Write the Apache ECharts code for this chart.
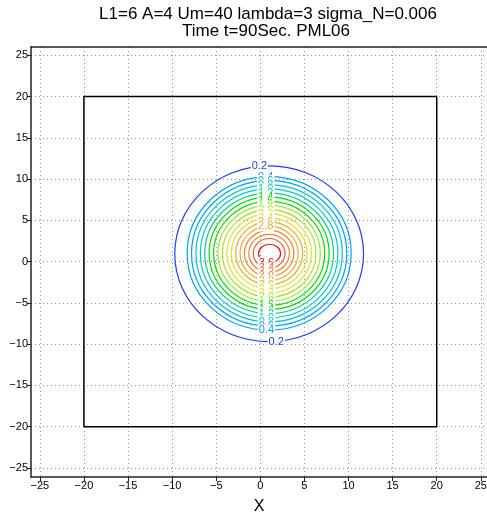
<!DOCTYPE html>
<html>
<head>
<meta charset="utf-8">
<script src="https://cdn.jsdelivr.net/npm/echarts@6/dist/echarts.min.js"></script>
<style>
	html, body { margin: 0; padding: 0; background: #fff; }
	#main { width: 487px; height: 516px; }
</style>
</head>
<body>
<div id="main"></div>
<script>
// ---------------- data ----------------
var titleLines = ['L1=6 A=4 Um=40 lambda=3 sigma_N=0.006', 'Time t=90Sec. PML06'];
var xTicks = [-25, -20, -15, -10, -5, 0, 5, 10, 15, 20, 25];
var yTicks = [-25, -20, -15, -10, -5, 0, 5, 10, 15, 20, 25];

// contour levels and the extent of each closed contour (data units)
var levels = [0.2, 0.4, 0.6, 0.8, 1.0, 1.2, 1.4, 1.6, 1.8, 2.0, 2.2, 2.4, 2.6, 2.8, 3.0, 3.2, 3.4, 3.6];
var contourXMin = [-9.7, -8.3, -7.8, -7.3, -6.8, -6.3, -5.8, -5.3, -4.8, -4.3, -3.8, -3.3, -2.8, -2.3, -1.8, -1.3, -0.8, -0.2];
var contourXMax = [11.7, 10.3, 9.8, 9.3, 8.8, 8.3, 7.8, 7.3, 6.8, 6.3, 5.8, 5.3, 4.8, 4.3, 3.8, 3.3, 2.8, 2.3];
var contourYMin = [-9.7, -8.3, -7.8, -7.3, -6.8, -6.3, -5.8, -5.3, -4.8, -4.3, -3.8, -3.3, -2.8, -2.3, -1.8, -1.3, -0.8, -0.15];
var contourYMax = [11.6, 10.3, 9.8, 9.3, 8.8, 8.3, 7.8, 7.3, 6.8, 6.3, 5.8, 5.3, 4.8, 4.3, 3.8, 3.3, 2.8, 2.1];

// the square frame
var boxX = [-20, 20, 20, -20, -20];
var boxY = [-20, -20, 20, 20, -20];

// ---------------- styles ----------------
var levelColors = ['#1e3cff', '#00a0ff', '#00a0ff', '#00c8c8', '#00c8c8', '#00d28c', '#00dc00', '#00dc00', '#a0e632',
	'#a0e632', '#e6dc32', '#e6dc32', '#e6af2d', '#e6af2d', '#f08228', '#f08228', '#f05a32', '#f01414'];
var labelFont = '11px "Liberation Sans"';
var titleFont = '17px "Liberation Sans"';

var chart = echarts.init(document.getElementById('main'));

function minus(v) {
	return String(v).replace('-', '\u2212');
}

var contourData = levels.map(function(lv, i) {
	return [contourXMin[i], contourXMax[i], contourYMin[i], contourYMax[i], i];
});

// labels: top of contours up to 2.8, bottom of all contours; drawn top to bottom
var labelData = [];
levels.forEach(function(lv, i) {
	if (lv <= 2.8) labelData.push([i === 0 ? -0.1 : 0.6, contourYMax[i], i]);
});
for (var k = levels.length - 1; k >= 0; k--) {
	labelData.push([k === 0 ? 1.8 : 0.7, contourYMin[k], k]);
}

var boxData = boxX.map(function(x, i) { return [x, boxY[i]]; });

var option = {
	animation: false,
	graphic: [{
		type: 'text',
		x: 268,
		y: 14,
		style: { text: titleLines[0], font: titleFont, fill: '#000', align: 'center', verticalAlign: 'middle' }
	}, {
		type: 'text',
		x: 266,
		y: 31,
		style: { text: titleLines[1], font: titleFont, fill: '#000', align: 'center', verticalAlign: 'middle' }
	}],
	grid: { left: 31, right: 0, top: 47, bottom: 39, containLabel: false, outerBoundsMode: 'none' },
	xAxis: [{
		type: 'value',
		min: -26,
		max: 25.7,
		position: 'bottom',
		name: 'X',
		nameLocation: 'middle',
		nameGap: 22,
		nameTextStyle: { fontFamily: 'Liberation Sans', fontSize: 16, color: '#000' },
		axisLine: { onZero: false, lineStyle: { color: '#222', width: 1.5 } },
		axisTick: { customValues: xTicks, length: 4, lineStyle: { color: '#222' } },
		axisLabel: { customValues: xTicks, formatter: minus, fontFamily: 'Liberation Sans', fontSize: 11, color: '#000', margin: 3 },
		splitLine: { show: true, lineStyle: { type: [1, 3], color: '#999' } }
	}, {
		type: 'value',
		min: -26,
		max: 25.7,
		position: 'top',
		axisLine: { show: true, onZero: false, lineStyle: { color: '#222', width: 1.5 } },
		axisTick: { show: false },
		axisLabel: { show: false },
		splitLine: { show: false }
	}],
	yAxis: [{
		type: 'value',
		min: -26.1,
		max: 26,
		position: 'left',
		axisLine: { show: true, onZero: false, lineStyle: { color: '#222', width: 1.5 } },
		axisTick: { show: true, customValues: yTicks, length: 4, lineStyle: { color: '#222' } },
		axisLabel: { customValues: yTicks, formatter: minus, fontFamily: 'Liberation Sans', fontSize: 11, color: '#000', margin: 3 },
		splitLine: { show: true, lineStyle: { type: [1, 3], color: '#999' } }
	}],
	series: [{
		type: 'line',
		data: boxData,
		symbol: 'none',
		lineStyle: { color: '#000', width: 1.5 },
		z: 2
	}, {
		type: 'custom',
		data: contourData,
		encode: { x: [0, 1], y: [2, 3] },
		z: 3,
		renderItem: function(params, api) {
			var p0 = api.coord([api.value(0), api.value(3)]);
			var p1 = api.coord([api.value(1), api.value(2)]);
			var idx = api.value(4);
			return {
				type: 'ellipse',
				shape: {
					cx: (p0[0] + p1[0]) / 2,
					cy: (p0[1] + p1[1]) / 2,
					rx: Math.abs(p1[0] - p0[0]) / 2,
					ry: Math.abs(p1[1] - p0[1]) / 2
				},
				style: { fill: null, stroke: levelColors[idx], lineWidth: 1.2 }
			};
		}
	}, {
		type: 'custom',
		data: labelData,
		encode: { x: 0, y: 1 },
		z: 4,
		renderItem: function(params, api) {
			var p = api.coord([api.value(0), api.value(1)]);
			var idx = api.value(2);
			return {
				type: 'text',
				x: p[0],
				y: p[1],
				style: {
					text: levels[idx].toFixed(1),
					fill: levelColors[idx],
					font: labelFont,
					align: 'center',
					verticalAlign: 'middle',
					backgroundColor: '#fff',
					padding: [0, 1]
				}
			};
		}
	}]
};

chart.setOption(option);
</script>
</body>
</html>
